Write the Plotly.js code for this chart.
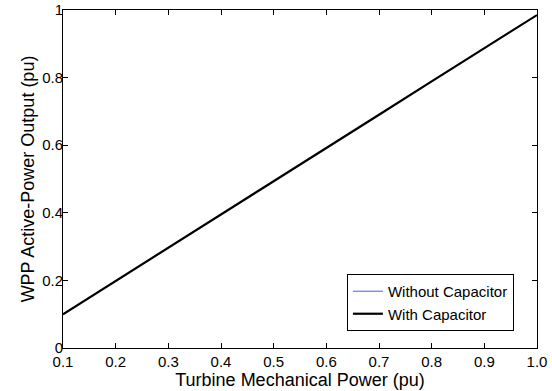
<!DOCTYPE html>
<html>
<head>
<meta charset="utf-8">
<script src="https://cdn.plot.ly/plotly-3.0.1.min.js"></script>
<style>html,body{margin:0;padding:0;background:#fff;}#chart{width:552px;height:391px;}</style>
</head>
<body>
<div id="chart"></div>
<script>
var mechPower = [0.1, 0.2, 0.3, 0.4, 0.5, 0.6, 0.7, 0.8, 0.9, 1.0];
var outputWithout = [0.100, 0.198, 0.297, 0.395, 0.494, 0.592, 0.690, 0.789, 0.887, 0.985];
var outputWith = [0.100, 0.198, 0.297, 0.395, 0.494, 0.592, 0.690, 0.789, 0.887, 0.985];
var xTickVals = [0.1, 0.2, 0.3, 0.4, 0.5, 0.6, 0.7, 0.8, 0.9, 1.0];
var xTickText = ['0.1', '0.2', '0.3', '0.4', '0.5', '0.6', '0.7', '0.8', '0.9', '1.0'];
var yTickVals = [0, 0.2, 0.4, 0.6, 0.8, 1];
var yTickText = ['0', '0.2', '0.4', '0.6', '0.8', '1'];

var font = 'Arial, "Liberation Sans", sans-serif';
var traces = [
  {x: mechPower, y: outputWithout, mode: 'lines', name: 'Without Capacitor',
   line: {color: '#5555ff', width: 1}},
  {x: mechPower, y: outputWith, mode: 'lines', name: 'With Capacitor',
   line: {color: '#000000', width: 2.2}}
];
var layout = {
  width: 552, height: 391,
  margin: {l: 63, r: 15, t: 10, b: 43},
  paper_bgcolor: '#fff', plot_bgcolor: '#fff',
  font: {family: font, size: 15, color: '#000'},
  showlegend: true,
  legend: {x: 0.599, y: 0.219, xanchor: 'left', yanchor: 'top',
           bordercolor: '#000', borderwidth: 1, bgcolor: '#fff',
           font: {family: font, size: 15, color: '#000'},
           itemwidth: 30, tracegroupgap: 0},
  xaxis: {range: [0.1, 1.0], tickvals: xTickVals, ticktext: xTickText,
          ticks: 'inside', ticklen: 5, tickcolor: '#000', tickwidth: 1,
          showline: true, linecolor: '#000', linewidth: 1, mirror: 'ticks',
          showgrid: false, zeroline: false,
          tickfont: {family: font, size: 15, color: '#000'},
          title: {text: 'Turbine Mechanical Power (pu)', standoff: 0,
                  font: {family: font, size: 18, color: '#000'}}},
  yaxis: {range: [0, 1], tickvals: yTickVals, ticktext: yTickText,
          ticks: 'inside', ticklen: 5, tickcolor: '#000', tickwidth: 1,
          showline: true, linecolor: '#000', linewidth: 1, mirror: 'ticks',
          showgrid: false, zeroline: false, ticklabelstandoff: -4,
          tickfont: {family: font, size: 15, color: '#000'},
          title: {text: 'WPP Active-Power Output (pu)', standoff: 2,
                  font: {family: font, size: 18, color: '#000'}}}
};
Plotly.newPlot('chart', traces, layout, {displayModeBar: false, staticPlot: true});
</script>
</body>
</html>
